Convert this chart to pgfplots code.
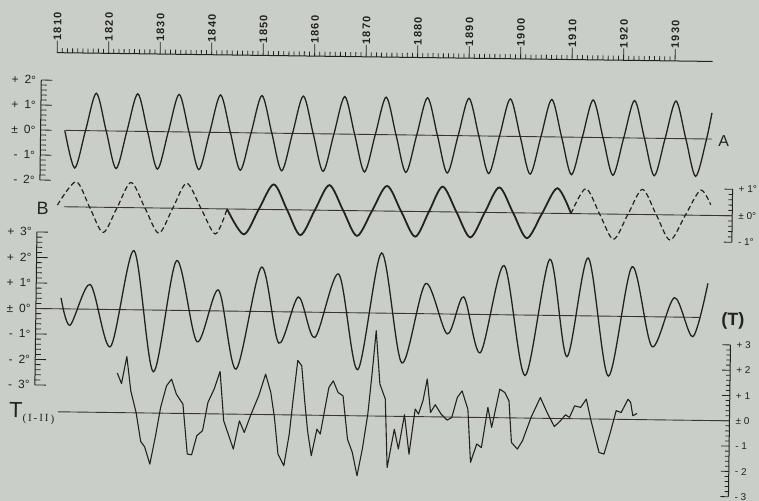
\documentclass[border=0pt]{standalone}
\usepackage{fontspec}
\setmainfont{Liberation Sans}
\newfontfamily\yearfont[LetterSpace=12]{Liberation Sans Bold}
\newfontfamily\subfont[LetterSpace=18]{Liberation Serif}
\usepackage{pgfplots}
\pgfplotsset{compat=1.18}
\definecolor{paper}{RGB}{201,207,200}
\definecolor{ink}{RGB}{36,34,32}
\definecolor{zline}{RGB}{62,52,46}
\pgfplotsset{
  panel/.style={scale only axis, x=5.15bp, clip=false, anchor=south west,
    axis line style={ink, line width=1bp},
    every tick/.style={ink, line width=0.8bp},
    tick align=inside,
    minor y tick num=4,
    hide x axis,
    tick label style={text=ink},
  },
  leftpanel/.style={panel, axis y line*=left, major tick length=11bp, minor tick length=5.5bp,
    yticklabel style={anchor=east, inner sep=0pt, xshift=-5bp, font=\fontsize{12}{13}\selectfont}},
  rightpanel/.style={panel, axis y line*=right, major tick length=8bp, minor tick length=4bp,
    yticklabel style={anchor=west, inner sep=0pt, xshift=6bp, font=\fontsize{10}{11}\selectfont}},
  curve/.style={ink, line width=1.3bp, smooth, no marks},
  zero/.style={zline, line width=0.9bp, no marks},
}
\begin{document}
\begin{tikzpicture}
\fill[paper] (0,0) rectangle (759bp,501bp);
\begin{scope}[transform canvas={rotate around={-0.77:(379.5bp,250.5bp)}}]
% ---------- year scale ----------
\begin{axis}[scale only axis, x=5.15bp, y=1bp, ymin=0, ymax=1, xmin=1810, xmax=1937.3,
  at={(54.5bp,443bp)}, anchor=south west, axis x line*=top, hide y axis,
  tick align=outside, axis line style={ink, line width=1bp},
  every tick/.style={ink, line width=0.8bp},
  xtick={1810,1820,1830,1840,1850,1860,1870,1880,1890,1900,1910,1920,1930},
  xticklabels={1810,1820,1830,1840,1850,1860,1870,1880,1890,1900,1910,1920,1930},
  minor x tick num=9, major tick length=12bp, minor tick length=4.5bp,
  xticklabel style={rotate=90, anchor=west, inner sep=0pt, text=ink,
    font=\yearfont\fontsize{11}{11}\selectfont}]
\addplot[draw=none] coordinates {(1810,0) (1937,1)};
\end{axis}
% ---------- panel A ----------
\begin{axis}[leftpanel, y=25bp, xmin=1806.99, xmax=1937.3, ymin=-2, ymax=2,
  at={(39bp,316.4bp)}, ytick={-2,-1,0,1,2},
  yticklabels={-\enspace 2°,-\enspace 1°,±\enspace 0°,+\enspace 1°,+\enspace 2°}]
\addplot[zero] coordinates {(1811.84,0) (1937.3,0)};
\addplot[curve] coordinates {
(1811.69,0) (1813.70,-1.5) (1815.71,0) (1817.72,1.5) (1819.73,0) (1821.74,-1.5)
(1823.75,0) (1825.76,1.5) (1827.77,0) (1829.78,-1.5) (1831.79,0) (1833.80,1.5)
(1835.81,0) (1837.82,-1.5) (1839.83,0) (1841.84,1.5) (1843.85,0) (1845.86,-1.5)
(1847.87,0) (1849.88,1.5) (1851.89,0) (1853.90,-1.5) (1855.91,0) (1857.92,1.5)
(1859.93,0) (1861.94,-1.5) (1863.95,0) (1865.96,1.5) (1867.97,0) (1869.98,-1.5)
(1871.99,0) (1874.00,1.5) (1876.01,0) (1878.02,-1.5) (1880.03,0) (1882.04,1.5)
(1884.05,0) (1886.06,-1.5) (1888.07,0) (1890.08,1.5) (1892.09,0) (1894.10,-1.5)
(1896.11,0) (1898.12,1.5) (1900.13,0) (1902.14,-1.5) (1904.15,0) (1906.16,1.5)
(1908.17,0) (1910.18,-1.5) (1912.19,0) (1914.20,1.5) (1916.21,0) (1918.22,-1.5)
(1920.23,0) (1922.24,1.5) (1924.25,0) (1926.26,-1.5) (1928.27,0) (1930.28,1.5)
(1932.29,0) (1934.30,-1.5) (1936.31,0) (1937.30,1.05)};
\node[anchor=west, inner sep=0pt, text=ink, font=\fontsize{16}{16}\selectfont] at (axis cs:1938.6,-0.08) {A};
\end{axis}
% ---------- panel B ----------
\begin{axis}[rightpanel, y=26.5bp, xmin=1810, xmax=1941.5, ymin=-1, ymax=1,
  at={(54.5bp,263.5bp)}, ytick={-1,0,1}, yticklabels={- 1°,± 0°,+ 1°}]
\addplot[zero] coordinates {(1811.7,0) (1941.5,0)};
\addplot[curve, line width=1.2bp, dash pattern=on 5bp off 3bp] coordinates {
(1810.45,0.06) (1814.0,0.95) (1816.7,0) (1819.4,-0.95) (1822.05,0) (1824.7,0.95)
(1827.45,0) (1830.2,-0.95) (1832.85,0) (1835.5,0.95) (1838.35,0) (1841.2,-0.95) (1843.4,0)};
\addplot[curve, line width=1.8bp] coordinates {
(1843.4,0) (1846.7,-0.95) (1849.55,0) (1852.4,0.95) (1855.05,0) (1857.7,-0.95)
(1860.45,0) (1863.2,0.95) (1865.95,0) (1868.7,-0.95) (1871.55,0) (1874.4,0.95)
(1877.2,0) (1880.0,-0.95) (1882.6,0) (1885.2,0.95) (1887.95,0) (1890.7,-0.95)
(1893.45,0) (1896.2,0.95) (1898.95,0) (1901.7,-0.95) (1904.6,0) (1907.5,0.95) (1910.2,0)};
\addplot[curve, line width=1.2bp, dash pattern=on 5bp off 3bp] coordinates {
(1910.2,0) (1913.0,0.95) (1915.75,0) (1918.5,-0.95) (1921.25,0) (1924.0,0.95)
(1926.75,0) (1929.5,-0.95) (1932.4,0) (1935.3,0.95) (1937.3,0.4)};
\node[anchor=west, inner sep=0pt, text=ink, font=\fontsize{18}{18}\selectfont] at (axis cs:1806.4,-0.07) {B};
\end{axis}
% ---------- panel T ----------
\begin{axis}[leftpanel, y=25.5bp, xmin=1806.54, xmax=1937.3, ymin=-3, ymax=3,
  at={(36.7bp,111.4bp)}, ytick={-3,-2,-1,0,1,2,3},
  yticklabels={-\enspace 3°,-\enspace 2°,-\enspace 1°,±\enspace 0°,+\enspace 1°,+\enspace 2°,+\enspace 3°}]
\addplot[zero] coordinates {(1806.54,0) (1935.3,0)};
\addplot[curve] coordinates {
(1811.40,0.43) (1813.20,-0.64) (1817.03,0.97) (1821.11,-1.46) (1825.44,2.32)
(1829.51,-2.42) (1833.73,1.95) (1837.92,-1.22) (1841.94,0.82) (1845.57,-2.27)
(1850.23,1.74) (1853.79,-1.23) (1857.48,0.59) (1860.78,-0.99) (1865.24,1.51)
(1869.18,-2.23) (1873.53,2.36) (1877.73,-1.94) (1882.14,1.18) (1886.47,-0.78)
(1889.57,0.68) (1892.95,-1.5) (1897.34,1.93) (1901.69,-2.37) (1906.21,2.2)
(1909.77,-1.61) (1913.65,2.27) (1917.86,-2.35) (1922.19,1.95) (1926.27,-1.17)
(1930.49,0.76) (1934.17,-0.76) (1936.95,1.34)};
\node[inner sep=0pt, text=ink, font=\bfseries\fontsize{18}{18}\selectfont] at (axis cs:1941.9,-0.12) {(T)};
\end{axis}
% ---------- panel T(I-II) ----------
\begin{axis}[rightpanel, y=25.3bp, xmin=1810, xmax=1941.5, ymin=-3, ymax=3,
  at={(54.5bp,9bp)}, ytick={-3,-2,-1,0,1,2,3},
  yticklabels={- 3,- 2,- 1,± 0,+ 1,+ 2,+ 3}]
\addplot[zero] coordinates {(1811.07,0) (1941.5,0)};
\addplot[ink, line width=1.1bp, line join=round, no marks] coordinates {
(1822.52,1.56) (1823.36,1.15) (1824.33,2.22) (1825.18,0.87) (1826.27,0.01)
(1827.24,-1.13) (1828.02,-1.34) (1829.07,-2.02) (1830.16,-0.83) (1831.01,0.22)
(1832.10,1.08) (1833.07,1.35) (1834.04,0.76) (1835.34,0.37) (1836.31,-1.60)
(1837.15,-1.63) (1838.12,-0.87) (1839.22,-0.67) (1840.19,0.45) (1841.36,0.98)
(1842.47,1.68) (1843.30,-0.27) (1844.21,-0.79) (1845.24,-1.38) (1846.35,-0.26)
(1847.32,-0.72) (1848.60,0.01) (1850.04,0.74) (1851.32,1.60) (1852.37,0.88)
(1853.14,-0.11) (1853.92,-1.55) (1855.09,-2.01) (1856.06,-0.76) (1856.70,0.56)
(1857.53,2.16) (1858.31,1.95) (1858.97,0.57) (1859.61,-0.62) (1860.39,-1.60)
(1861.42,-0.55) (1862.08,-0.74) (1862.85,0.18) (1863.63,1.10) (1864.47,1.37)
(1865.44,0.91) (1866.41,0.78) (1867.38,-0.93) (1868.35,-1.45) (1869.32,-2.37)
(1870.29,-1.31) (1871.26,0.07) (1872.04,1.79) (1872.68,3.37) (1873.53,1.27)
(1874.62,0.68) (1875.15,-2.03) (1876.45,-0.51) (1877.28,-1.29) (1878.39,0.07)
(1879.36,-1.49) (1880.45,0.30) (1881.11,0.10) (1881.94,0.63) (1882.72,1.49)
(1883.44,0.17) (1884.33,0.48) (1885.50,0.11) (1886.66,-0.12) (1887.57,-0.02)
(1888.60,0.78) (1889.51,1.04) (1890.68,0.32) (1891.32,-1.78) (1892.49,-1.05)
(1893.40,-1.19) (1894.56,0.40) (1895.34,-0.39) (1895.86,0.14) (1896.83,1.13)
(1897.81,1.00) (1898.64,0.67) (1899.22,-0.97) (1900.39,-1.23) (1901.36,-0.90)
(1902.97,0.03) (1904.72,0.82) (1906.21,0.17) (1907.51,-0.32) (1908.68,-0.09)
(1909.65,0.15) (1910.43,0.05) (1911.40,0.51) (1912.56,0.45) (1913.65,0.78)
(1914.62,-0.07) (1916.25,-1.32) (1917.22,-1.38) (1918.39,-0.53) (1919.48,0.34)
(1920.45,0.27) (1921.75,0.80) (1922.27,0.67) (1922.72,0.15) (1923.55,0.24)};
\node[anchor=base west, inner sep=0pt, text=ink] at (axis cs:1801.6,-0.25)
  {{\fontsize{22}{22}\selectfont T}\raisebox{-4bp}{\subfont\fontsize{11}{11}\selectfont(I-II)}};
\end{axis}
\end{scope}
\pgfresetboundingbox
\useasboundingbox (0,0) rectangle (759bp,501bp);
\end{tikzpicture}
\end{document}
